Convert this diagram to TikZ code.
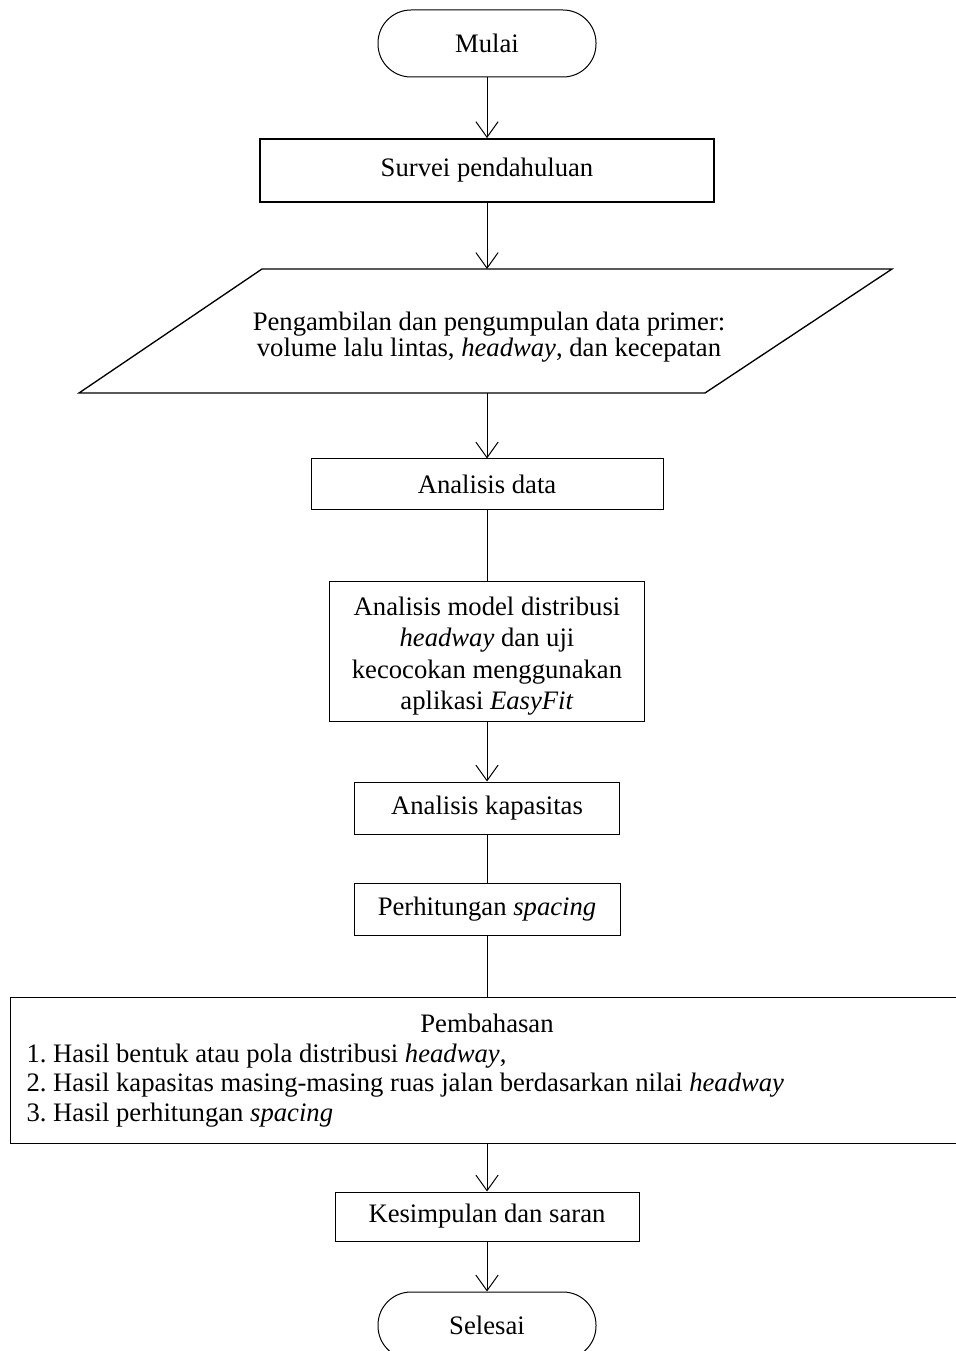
\documentclass[tikz,border=0pt]{standalone}
\usepackage{fontspec}
\setmainfont{Liberation Serif}
\usetikzlibrary{arrows.meta}
\newcommand{\pxu}{0.45pt}
\frenchspacing
\tikzset{
    terminal/.style={draw, line width=0.45pt, rounded corners=33*\pxu,
                     minimum width=218*\pxu, minimum height=67*\pxu,
                     inner sep=0pt, font=\fontsize{12}{14}\selectfont},
    procbox/.style={draw, line width=0.45pt, inner sep=0pt, align=center,
                    font=\fontsize{12}{14.1}\selectfont},
    iobox/.style={draw, line width=0.6pt, line join=miter},
    flow/.style={-{Straight Barb[length=7pt,width=10pt]}, line width=0.45pt},
    link/.style={line width=0.45pt},
}
\begin{document}
\begin{tikzpicture}[x=\pxu, y=-\pxu]
\useasboundingbox (0,0) rectangle (955,1351);

% start
\node[terminal] (mulai) at (487,43.5) {Mulai};

% preliminary survey
\node[procbox, line width=0.8pt, minimum width=454*\pxu, minimum height=63*\pxu]
     (survei) at (487,170.5) {Survei pendahuluan};

% primary data (parallelogram)
\coordinate (dTL) at (262,269);
\coordinate (dTR) at (892,269);
\coordinate (dBR) at (705,393);
\coordinate (dBL) at (79,393);
\draw[iobox] (dTL) -- (dTR) -- (dBR) -- (dBL) -- cycle;
\node[inner sep=0pt, align=center,
      font=\fontsize{12}{11.7}\selectfont] (data) at (489,337)
     {Pengambilan dan pengumpulan data primer:\\
      volume lalu lintas, \textit{headway}, dan kecepatan};

% analysis steps
\node[procbox, minimum width=352*\pxu, minimum height=51*\pxu]
     (anadata) at (487,484.5) {Analisis data};
\node[procbox, minimum width=315*\pxu, minimum height=140*\pxu]
     (model) at (487,651)
     {\rule{0pt}{13pt}Analisis model distribusi\\
      \textit{headway} dan uji\\
      kecocokan menggunakan\\
      aplikasi \textit{EasyFit}};
\node[procbox, minimum width=265*\pxu, minimum height=52*\pxu]
     (kapasitas) at (487,808) {Analisis kapasitas};
\node[procbox, minimum width=266*\pxu, minimum height=52*\pxu]
     (spacing) at (487,909) {Perhitungan \textit{spacing}};

% discussion
\node[procbox, minimum width=990*\pxu, minimum height=146*\pxu]
     (bahas) at (505,1070) {};
\node[procbox, draw=none] (bahasTitle) at (487,1023) {Pembahasan};
\node[procbox, draw=none, align=left, anchor=north west,
      font=\fontsize{12}{13.4}\selectfont] (bahasList) at (26,1043)
     {1. Hasil bentuk atau pola distribusi \textit{headway},\\
      2. Hasil kapasitas masing-masing ruas jalan berdasarkan nilai \textit{headway}\\
      3. Hasil perhitungan \textit{spacing}};

% conclusion and end
\node[procbox, minimum width=304*\pxu, minimum height=49*\pxu]
     (kesimpulan) at (487,1216.5) {Kesimpulan dan saran};
\node[terminal] (selesai) at (487,1325.5) {Selesai};

% connectors
\draw[flow] (mulai) -- (survei);
\draw[flow] (survei.south) -- (survei.south |- dTL);
\draw[flow] (survei.south |- dBL) -- (anadata);
\draw[link] (anadata) -- (model);
\draw[flow] (model) -- (kapasitas);
\draw[link] (kapasitas) -- (spacing);
\draw[link] (spacing.south) -- (spacing.south |- bahas.north);
\draw[flow] (kesimpulan.north |- bahas.south) -- (kesimpulan.north);
\draw[flow] (kesimpulan) -- (selesai);
\end{tikzpicture}
\end{document}
